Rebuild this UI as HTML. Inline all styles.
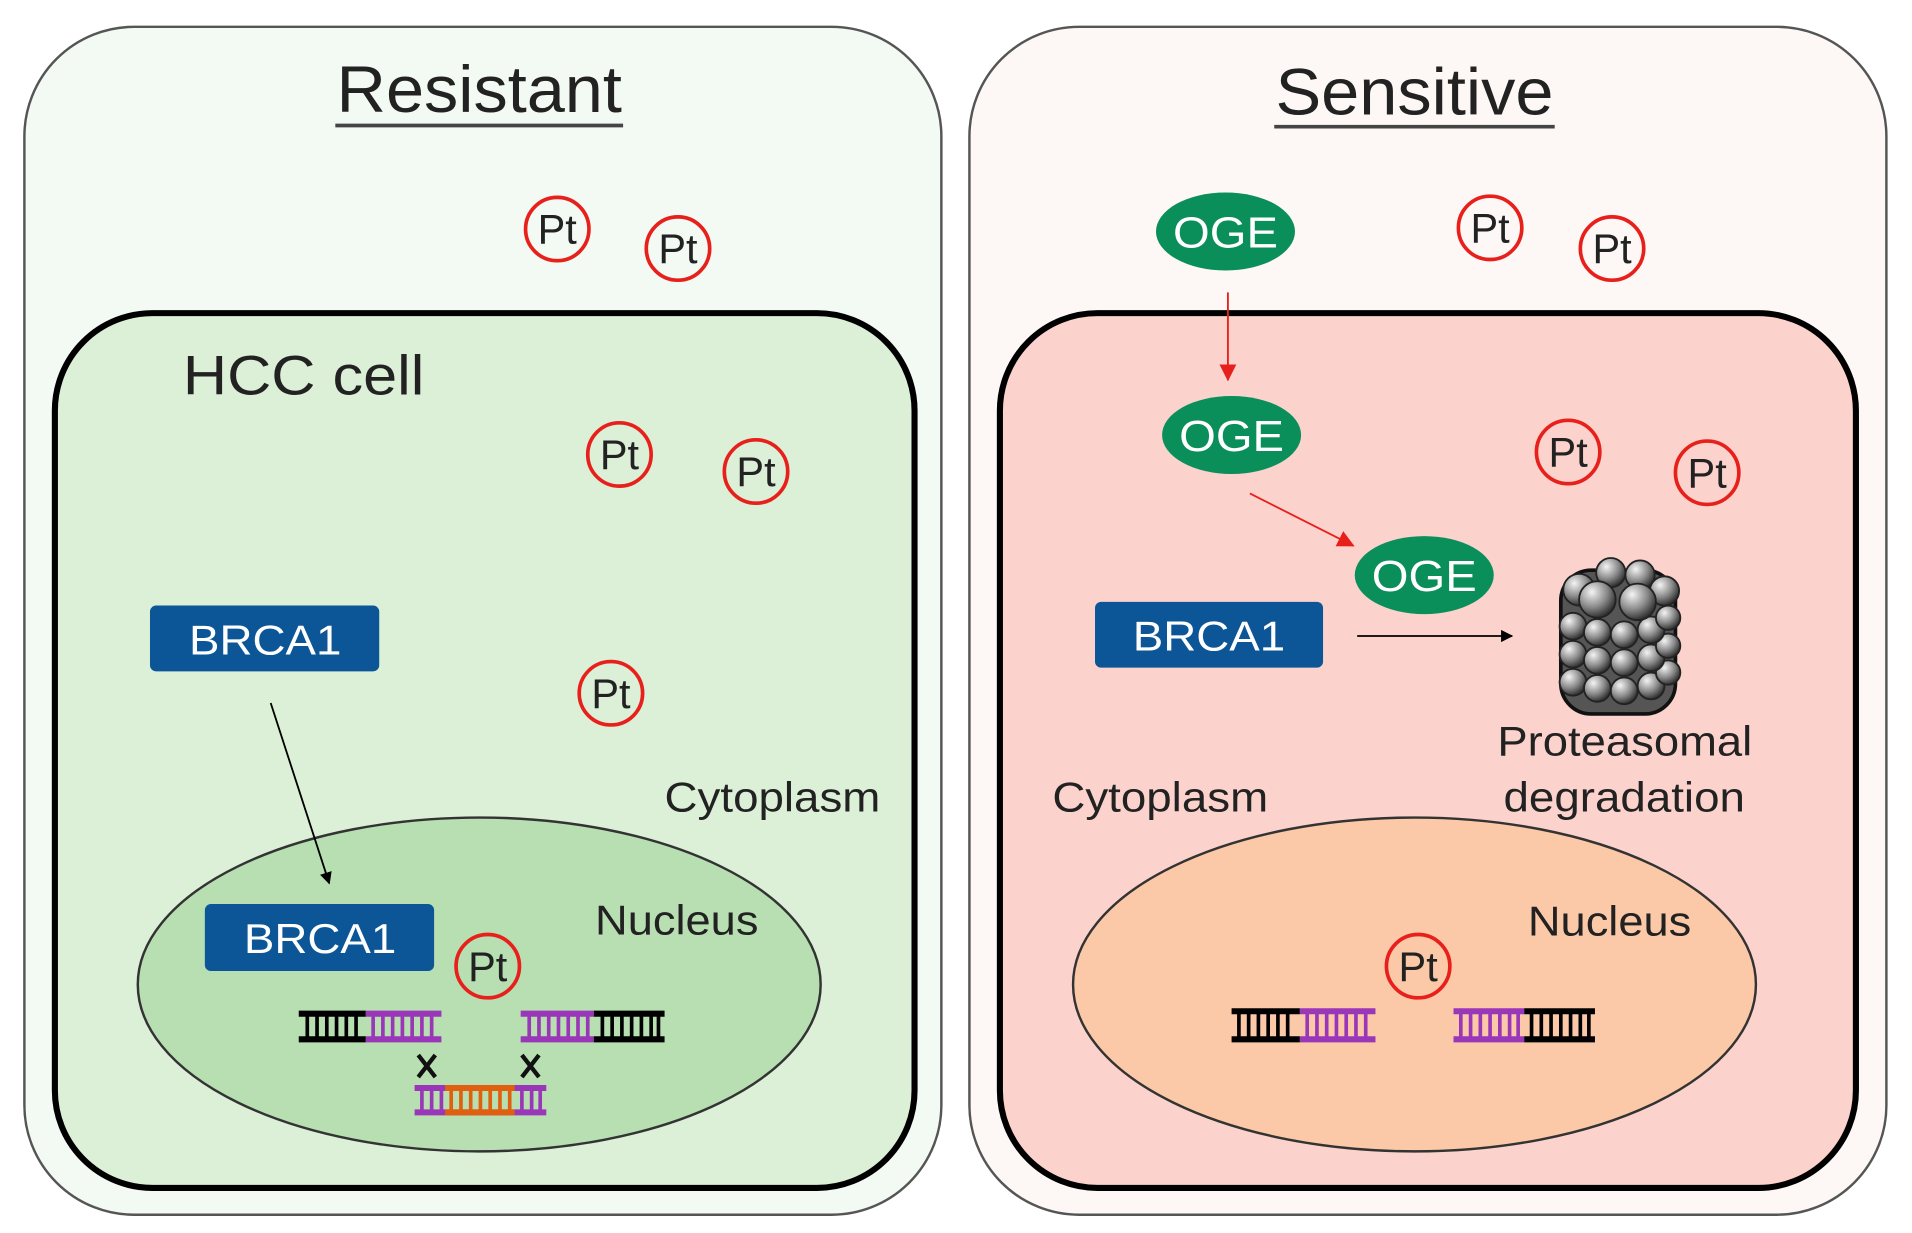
<!DOCTYPE html>
<html><head><meta charset="utf-8"><style>
html,body{margin:0;padding:0;background:#fff;}
svg{display:block;}
text{font-family:"Liberation Sans",Arial,sans-serif;}
</style></head><body>
<svg width="1912" height="1233" viewBox="0 0 1568 1012" preserveAspectRatio="none" xmlns="http://www.w3.org/2000/svg">
<defs>
<radialGradient id="ball" cx="0.35" cy="0.3" r="0.7">
<stop offset="0" stop-color="#f4f4f4"/><stop offset="0.6" stop-color="#888"/><stop offset="1" stop-color="#333"/>
</radialGradient>
<marker id="ab" markerWidth="10" markerHeight="10" refX="9" refY="5" orient="auto" markerUnits="userSpaceOnUse"><path d="M0,0 L10,5 L0,10 z" fill="#000"/></marker>
<marker id="ar" markerWidth="14" markerHeight="14" refX="13" refY="7" orient="auto" markerUnits="userSpaceOnUse"><path d="M0,0 L14,7 L0,14 z" fill="#e8201c"/></marker>
</defs>
<rect x="20" y="22" width="752" height="975" rx="90" fill="#f3f9f3" stroke="#555" stroke-width="2"/>
<rect x="795" y="22" width="752" height="975" rx="90" fill="#fdf8f5" stroke="#555" stroke-width="2"/>
<rect x="45" y="257" width="705" height="718" rx="80" fill="#dcefd7" stroke="#000" stroke-width="5"/>
<rect x="820" y="257" width="702" height="718" rx="80" fill="#fbd3cc" stroke="#000" stroke-width="5"/>
<text x="276" y="92" font-size="54" textLength="234" lengthAdjust="spacingAndGlyphs" fill="#222">Resistant</text>
<line x1="275" y1="103" x2="511" y2="103" stroke="#444" stroke-width="3"/>
<text x="1046" y="94" font-size="54" textLength="228" lengthAdjust="spacingAndGlyphs" fill="#222">Sensitive</text>
<line x1="1045" y1="104" x2="1275" y2="104" stroke="#444" stroke-width="3"/>
<ellipse cx="393" cy="808" rx="280" ry="137" fill="#b7dfb2" stroke="#333" stroke-width="2"/>
<ellipse cx="1160" cy="808" rx="280" ry="137" fill="#fbc9a8" stroke="#333" stroke-width="2"/>
<text x="150" y="324" font-size="46" textLength="198" lengthAdjust="spacingAndGlyphs" fill="#222">HCC cell</text>
<text x="545" y="666" font-size="34" textLength="177" lengthAdjust="spacingAndGlyphs" fill="#222">Cytoplasm</text>
<text x="488" y="767" font-size="34" textLength="134" lengthAdjust="spacingAndGlyphs" fill="#222">Nucleus</text>
<text x="863" y="666" font-size="34" textLength="177" lengthAdjust="spacingAndGlyphs" fill="#222">Cytoplasm</text>
<text x="1253" y="768" font-size="34" textLength="134" lengthAdjust="spacingAndGlyphs" fill="#222">Nucleus</text>
<text x="1228" y="620" font-size="34" textLength="209" lengthAdjust="spacingAndGlyphs" fill="#222">Proteasomal</text>
<text x="1233" y="666" font-size="34" textLength="198" lengthAdjust="spacingAndGlyphs" fill="#222">degradation</text>
<g fill="none" stroke="#e8201c" stroke-width="3">
<circle cx="457" cy="188" r="26"/><circle cx="556" cy="204" r="26"/><circle cx="508" cy="373" r="26"/><circle cx="620" cy="387" r="26"/><circle cx="501" cy="569" r="26"/><circle cx="400" cy="793" r="26"/>
<circle cx="1222" cy="187" r="26"/><circle cx="1322" cy="204" r="26"/><circle cx="1286" cy="371" r="26"/><circle cx="1400" cy="388" r="26"/><circle cx="1163" cy="793" r="26"/>
</g>
<g font-size="34" text-anchor="middle" fill="#222">
<text x="457" y="200">Pt</text><text x="556" y="216">Pt</text><text x="508" y="385">Pt</text><text x="620" y="399">Pt</text><text x="501" y="581">Pt</text><text x="400" y="805">Pt</text>
<text x="1222" y="199">Pt</text><text x="1322" y="216">Pt</text><text x="1286" y="383">Pt</text><text x="1400" y="400">Pt</text><text x="1163" y="805">Pt</text>
</g>
<g fill="#0a8f5a"><ellipse cx="1005" cy="190" rx="57" ry="32"/><ellipse cx="1010" cy="357" rx="57" ry="32"/><ellipse cx="1168" cy="472" rx="57" ry="32"/></g>
<g font-size="36" fill="#fff">
<text x="962" y="203" textLength="86" lengthAdjust="spacingAndGlyphs">OGE</text>
<text x="967" y="370" textLength="86" lengthAdjust="spacingAndGlyphs">OGE</text>
<text x="1125" y="485" textLength="86" lengthAdjust="spacingAndGlyphs">OGE</text>
</g>
<g fill="#0c5597"><rect x="123" y="497" width="188" height="54" rx="5"/><rect x="168" y="742" width="188" height="55" rx="5"/><rect x="898" y="494" width="187" height="54" rx="5"/></g>
<g font-size="34" fill="#fff">
<text x="155" y="537" textLength="125" lengthAdjust="spacingAndGlyphs">BRCA1</text>
<text x="200" y="782" textLength="125" lengthAdjust="spacingAndGlyphs">BRCA1</text>
<text x="929" y="534" textLength="125" lengthAdjust="spacingAndGlyphs">BRCA1</text>
</g>
<line x1="222" y1="577" x2="270" y2="725" stroke="#000" stroke-width="1.5" marker-end="url(#ab)"/>
<line x1="1113" y1="522" x2="1240" y2="522" stroke="#000" stroke-width="1.5" marker-end="url(#ab)"/>
<line x1="1007" y1="240" x2="1007" y2="312" stroke="#e8201c" stroke-width="1.5" marker-end="url(#ar)"/>
<line x1="1025" y1="405" x2="1110" y2="448" stroke="#e8201c" stroke-width="1.5" marker-end="url(#ar)"/>
<g stroke-width="5">
<line x1="245" y1="832" x2="300" y2="832" stroke="#000"/><line x1="245" y1="853" x2="300" y2="853" stroke="#000"/>
<line x1="300" y1="832" x2="362" y2="832" stroke="#9a36b8"/><line x1="300" y1="853" x2="362" y2="853" stroke="#9a36b8"/>
<line x1="427" y1="832" x2="487" y2="832" stroke="#9a36b8"/><line x1="427" y1="853" x2="487" y2="853" stroke="#9a36b8"/>
<line x1="487" y1="832" x2="545" y2="832" stroke="#000"/><line x1="487" y1="853" x2="545" y2="853" stroke="#000"/>
<line x1="340" y1="893" x2="448" y2="893" stroke="#9a36b8"/><line x1="340" y1="913" x2="448" y2="913" stroke="#9a36b8"/>
<line x1="365" y1="893" x2="422" y2="893" stroke="#e06010"/><line x1="365" y1="913" x2="422" y2="913" stroke="#e06010"/>
</g>
<g stroke-width="3">
<path d="M252 832V853M260 832V853M268 832V853M276 832V853M284 832V853M292 832V853" stroke="#000"/>
<path d="M306 832V853M314 832V853M322 832V853M330 832V853M338 832V853M346 832V853M354 832V853" stroke="#9a36b8"/>
<path d="M434 832V853M442 832V853M450 832V853M458 832V853M466 832V853M474 832V853M482 832V853" stroke="#9a36b8"/>
<path d="M494 832V853M502 832V853M510 832V853M518 832V853M526 832V853M534 832V853M540 832V853" stroke="#000"/>
<path d="M346 893V913M354 893V913M362 893V913M428 893V913M436 893V913M443 893V913" stroke="#9a36b8"/>
<path d="M370 893V913M378 893V913M386 893V913M394 893V913M402 893V913M410 893V913M418 893V913" stroke="#e06010"/>
</g>
<g stroke="#111" stroke-width="3.5">
<path d="M343 866L357 884M357 866L343 884"/>
<path d="M428 866L442 884M442 866L428 884"/>
</g>
<g stroke-width="5">
<line x1="1010" y1="830" x2="1066" y2="830" stroke="#000"/><line x1="1010" y1="853" x2="1066" y2="853" stroke="#000"/>
<line x1="1066" y1="830" x2="1128" y2="830" stroke="#9a36b8"/><line x1="1066" y1="853" x2="1128" y2="853" stroke="#9a36b8"/>
<line x1="1192" y1="830" x2="1250" y2="830" stroke="#9a36b8"/><line x1="1192" y1="853" x2="1250" y2="853" stroke="#9a36b8"/>
<line x1="1250" y1="830" x2="1308" y2="830" stroke="#000"/><line x1="1250" y1="853" x2="1308" y2="853" stroke="#000"/>
</g>
<g stroke-width="3">
<path d="M1016 830V853M1024 830V853M1032 830V853M1040 830V853M1048 830V853M1056 830V853" stroke="#000"/>
<path d="M1072 830V853M1080 830V853M1088 830V853M1096 830V853M1104 830V853M1112 830V853M1120 830V853" stroke="#9a36b8"/>
<path d="M1198 830V853M1206 830V853M1214 830V853M1222 830V853M1230 830V853M1238 830V853M1245 830V853" stroke="#9a36b8"/>
<path d="M1256 830V853M1264 830V853M1272 830V853M1280 830V853M1288 830V853M1296 830V853M1303 830V853" stroke="#000"/>
</g>
<g stroke="#222" stroke-width="1.5" fill="url(#ball)">
<rect x="1280" y="468" width="94" height="118" rx="25" fill="#555" stroke="#111" stroke-width="3"/>
<circle cx="1290" cy="560" r="11"/><circle cx="1310" cy="565" r="11"/><circle cx="1332" cy="567" r="11"/><circle cx="1354" cy="563" r="11"/><circle cx="1368" cy="552" r="10"/>
<circle cx="1290" cy="537" r="11"/><circle cx="1310" cy="542" r="11"/><circle cx="1332" cy="544" r="11"/><circle cx="1354" cy="540" r="11"/><circle cx="1368" cy="530" r="10"/>
<circle cx="1290" cy="514" r="11"/><circle cx="1310" cy="519" r="11"/><circle cx="1332" cy="521" r="11"/><circle cx="1354" cy="517" r="11"/><circle cx="1368" cy="507" r="10"/>
<circle cx="1295" cy="484" r="13"/><circle cx="1321" cy="470" r="12"/><circle cx="1345" cy="472" r="12"/><circle cx="1365" cy="485" r="12"/>
<circle cx="1310" cy="492" r="15"/><circle cx="1343" cy="494" r="15"/>
</g>
</svg>
</body></html>
